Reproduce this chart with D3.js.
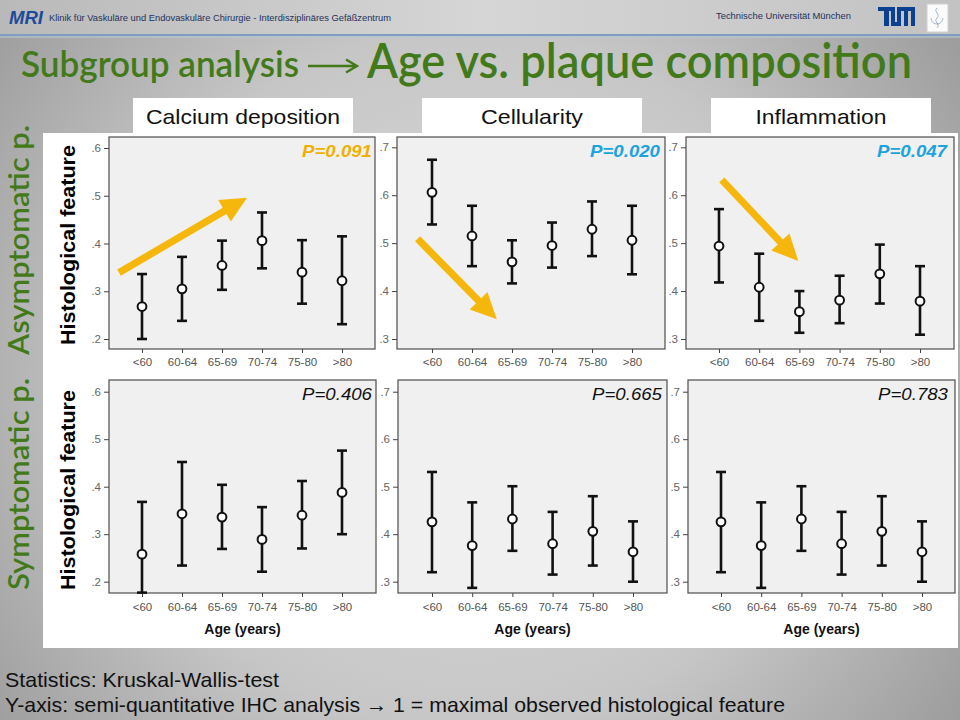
<!DOCTYPE html>
<html><head><meta charset="utf-8">
<script src="https://cdn.jsdelivr.net/npm/d3@7"></script>
<style>body{margin:0;background:#fff}svg{display:block}</style>
</head><body><svg id="c" width="960" height="720"></svg>
<script>
// ---------------- data ----------------
const ageGroups = ["<60", "60-64", "65-69", "70-74", "75-80", ">80"];
const featureTitles = ["Calcium deposition", "Cellularity", "Inflammation"];
const groupTitles = ["Asymptomatic p.", "Symptomatic p."];
const ticksCalcium = [0.2, 0.3, 0.4, 0.5, 0.6];
const ticksCell = [0.3, 0.4, 0.5, 0.6, 0.7];

// Asymptomatic patients
const calciumAsymMean = [0.268, 0.305, 0.354, 0.406, 0.340, 0.322];
const calciumAsymLow  = [0.200, 0.238, 0.303, 0.348, 0.274, 0.231];
const calciumAsymHigh = [0.336, 0.372, 0.406, 0.465, 0.407, 0.415];

const cellAsymMean = [0.606, 0.515, 0.461, 0.495, 0.529, 0.506];
const cellAsymLow  = [0.539, 0.452, 0.416, 0.449, 0.473, 0.435];
const cellAsymHigh = [0.674, 0.578, 0.506, 0.543, 0.587, 0.578];

const inflAsymMean = [0.494, 0.408, 0.357, 0.381, 0.436, 0.379];
const inflAsymLow  = [0.418, 0.338, 0.313, 0.333, 0.374, 0.309];
const inflAsymHigh = [0.571, 0.478, 0.400, 0.432, 0.497, 0.452];

// Symptomatic patients
const calciumSymMean = [0.258, 0.343, 0.336, 0.289, 0.340, 0.388];
const calciumSymLow  = [0.177, 0.234, 0.269, 0.221, 0.270, 0.300];
const calciumSymHigh = [0.368, 0.452, 0.404, 0.357, 0.412, 0.476];

const cellSymMean = [0.426, 0.376, 0.432, 0.380, 0.406, 0.363];
const cellSymLow  = [0.320, 0.287, 0.365, 0.315, 0.334, 0.300];
const cellSymHigh = [0.531, 0.467, 0.501, 0.447, 0.480, 0.427];

const inflSymMean = [0.426, 0.376, 0.432, 0.380, 0.406, 0.363];
const inflSymLow  = [0.320, 0.287, 0.365, 0.315, 0.334, 0.300];
const inflSymHigh = [0.531, 0.467, 0.501, 0.447, 0.480, 0.427];

const pValues = ["P=0.091", "P=0.020", "P=0.047", "P=0.406", "P=0.665", "P=0.783"];

// trend arrows in data units: [category index, value] tail -> tip
const arrowCalcium = [[-0.575, 0.339], [2.625, 0.496]];
const arrowCell    = [[-0.36, 0.509], [1.62, 0.341]];
const arrowInfl    = [[0.07, 0.632], [1.97, 0.463]];

// ---------------- drawing ----------------
const svg = d3.select("#c");
const defs = svg.append("defs");

const rg = defs.append("radialGradient").attr("id", "bg")
  .attr("gradientUnits", "userSpaceOnUse").attr("cx", 470).attr("cy", 380).attr("r", 640);
rg.append("stop").attr("offset", 0).attr("stop-color", "#dedede");
rg.append("stop").attr("offset", 0.55).attr("stop-color", "#c6c6c6");
rg.append("stop").attr("offset", 1).attr("stop-color", "#959595");
svg.append("rect").attr("width", 960).attr("height", 720).attr("fill", "url(#bg)");

const hg = defs.append("linearGradient").attr("id", "hdr");
hg.append("stop").attr("offset", 0).attr("stop-color", "#b9b9b9");
hg.append("stop").attr("offset", 0.5).attr("stop-color", "#d6d6d6");
hg.append("stop").attr("offset", 1).attr("stop-color", "#c2c2c2");
svg.append("rect").attr("width", 960).attr("height", 35).attr("fill", "url(#hdr)");
svg.append("rect").attr("y", 34).attr("width", 960).attr("height", 2).attr("fill", "#7f9dc0");
svg.append("rect").attr("y", 36).attr("width", 960).attr("height", 2).attr("fill", "#b8c4d2").attr("opacity", 0.6);

// header logos + text
svg.append("text").attr("x", 9).attr("y", 24).attr("font-family", "Liberation Sans, Arial")
  .attr("font-weight", "bold").attr("font-style", "italic").attr("font-size", 19)
  .attr("fill", "#1d4b9c").attr("textLength", 34).attr("lengthAdjust", "spacingAndGlyphs").text("MRI");
svg.append("text").attr("x", 49).attr("y", 21).attr("font-family", "Liberation Sans, Arial")
  .attr("font-size", 9.5).attr("fill", "#22325c").attr("textLength", 342).attr("lengthAdjust", "spacingAndGlyphs")
  .text("Klinik für Vaskuläre und Endovaskuläre Chirurgie - Interdisziplinäres Gefäßzentrum");
svg.append("text").attr("x", 716).attr("y", 19).attr("font-family", "Liberation Sans, Arial")
  .attr("font-size", 9.5).attr("fill", "#22325c").attr("textLength", 135).attr("lengthAdjust", "spacingAndGlyphs")
  .text("Technische Universität München");
const tum = svg.append("g").attr("fill", "#0b3f8f");
[[878,7,17,4],[884,7,5,19],[891,7,4,19],[891,22,10,4],[897,7,18,4],[897,7,4,19],[904,7,4,19],[911,7,4,19]]
  .forEach(r => tum.append("rect").attr("x", r[0]).attr("y", r[1]).attr("width", r[2]).attr("height", r[3]));
svg.append("rect").attr("x", 927).attr("y", 4).attr("width", 21).attr("height", 28).attr("fill", "#fbfbfb").attr("stroke", "#cfcfcf");
svg.append("path").attr("d", "M937,8 C933,12 941,14 937,18 C933,22 941,24 937,28 M931,18 C932,26 942,26 943,18")
  .attr("fill", "none").attr("stroke", "#8aa0b8").attr("stroke-width", 0.8);

// title
const green = "#427a1a";
svg.append("text").attr("x", 21).attr("y", 77).attr("font-family", "Lato, Open Sans, sans-serif")
  .attr("font-size", 36).attr("font-weight", 600).attr("fill", green).attr("textLength", 278).attr("lengthAdjust", "spacingAndGlyphs")
  .text("Subgroup analysis");
svg.append("path").attr("d", "M308,66 H356 M346,59.5 L357,66 L346,72.5").attr("fill", "none")
  .attr("stroke", green).attr("stroke-width", 2.4);
svg.append("text").attr("x", 367).attr("y", 78).attr("font-family", "Lato, Open Sans, sans-serif")
  .attr("font-size", 48).attr("font-weight", 600).attr("fill", green).attr("textLength", 545).attr("lengthAdjust", "spacingAndGlyphs")
  .text("Age vs. plaque composition");

// feature header boxes
const boxCenters = [243, 532, 821];
const boxTextLen = [194, 102, 131];
featureTitles.forEach((t, i) => {
  svg.append("rect").attr("x", boxCenters[i] - 110).attr("y", 98).attr("width", 220).attr("height", 36).attr("fill", "#fff");
  svg.append("text").attr("x", boxCenters[i]).attr("y", 124).attr("text-anchor", "middle")
    .attr("font-family", "Liberation Sans, Arial").attr("font-size", 21).attr("fill", "#111")
    .attr("textLength", boxTextLen[i]).attr("lengthAdjust", "spacingAndGlyphs").text(t);
});

// white chart area
svg.append("rect").attr("x", 43).attr("y", 133).attr("width", 915).attr("height", 515).attr("fill", "#fff");

// group labels (green, rotated)
[[29, 240, 230, groupTitles[0]], [29, 484, 212, groupTitles[1]]].forEach(d => {
  svg.append("text").attr("transform", `translate(${d[0]},${d[1]}) rotate(-90)`).attr("text-anchor", "middle")
    .attr("font-family", "Lato, Open Sans, sans-serif").attr("font-size", 28).attr("font-weight", 600).attr("fill", green)
    .attr("textLength", d[2]).attr("lengthAdjust", "spacingAndGlyphs").text(d[3]);
});
// y-axis titles
[245, 490].forEach(cy => {
  svg.append("text").attr("transform", `translate(75,${cy}) rotate(-90)`).attr("text-anchor", "middle")
    .attr("font-family", "Liberation Sans, Arial").attr("font-weight", "bold").attr("font-size", 20)
    .attr("fill", "#000").attr("textLength", 200).attr("lengthAdjust", "spacingAndGlyphs").text("Histological feature");
});

const panels = [
  {mean: calciumAsymMean, lo: calciumAsymLow, hi: calciumAsymHigh, ticks: ticksCalcium, p: pValues[0], pc: "#f0b000", bold: true,
   arrow: arrowCalcium, f: [109,137,375,349], cx: [142,342], ty: [339,148], pb: 157, pe: 372, lb: 366, age: false},
  {mean: cellAsymMean, lo: cellAsymLow, hi: cellAsymHigh, ticks: ticksCell, p: pValues[1], pc: "#1ba3dd", bold: true,
   arrow: arrowCell, f: [397,137,665,349], cx: [432,632], ty: [339,147.3], pb: 157, pe: 660, lb: 366, age: false},
  {mean: inflAsymMean, lo: inflAsymLow, hi: inflAsymHigh, ticks: ticksCell, p: pValues[2], pc: "#1ba3dd", bold: true,
   arrow: arrowInfl, f: [686,137,954,349], cx: [719,920], ty: [339,147.3], pb: 157, pe: 947, lb: 366, age: false},
  {mean: calciumSymMean, lo: calciumSymLow, hi: calciumSymHigh, ticks: ticksCalcium, p: pValues[3], pc: "#111", bold: false,
   arrow: null, f: [109,380,376,593], cx: [142,342], ty: [581.7,391.7], pb: 400, pe: 372, lb: 611, age: true},
  {mean: cellSymMean, lo: cellSymLow, hi: cellSymHigh, ticks: ticksCell, p: pValues[4], pc: "#111", bold: false,
   arrow: null, f: [398,380,667,593], cx: [432,633], ty: [581.7,391.7], pb: 400, pe: 662, lb: 611, age: true},
  {mean: inflSymMean, lo: inflSymLow, hi: inflSymHigh, ticks: ticksCell, p: pValues[5], pc: "#111", bold: false,
   arrow: null, f: [688,380,955,593], cx: [721,922], ty: [581.7,391.7], pb: 400, pe: 948, lb: 611, age: true}
];

panels.forEach(P => {
  const [l, t, r, b] = P.f;
  const g = svg.append("g");
  g.append("rect").attr("x", l).attr("y", t).attr("width", r - l).attr("height", b - t)
    .attr("fill", "#f0f0f0").attr("stroke", "#4d4d4d").attr("stroke-width", 1.2);
  const x = d3.scalePoint().domain(ageGroups).range(P.cx);
  const y = d3.scaleLinear().domain([P.ticks[0], P.ticks[P.ticks.length - 1]]).range(P.ty);

  const fs = 11.5;
  const ax = g.append("g").attr("transform", `translate(0,${b})`)
    .call(d3.axisBottom(x).tickSize(4).tickPadding(P.lb - b - 4 - 0.71 * fs));
  ax.select(".domain").remove();
  ax.selectAll("line").attr("stroke", "#444");
  ax.selectAll("text").attr("font-family", "Liberation Sans, Arial").attr("font-size", fs).attr("fill", "#555");

  const ay = g.append("g").attr("transform", `translate(${l},0)`)
    .call(d3.axisLeft(y).tickValues(P.ticks).tickSize(5).tickPadding(3)
      .tickFormat(v => v.toFixed(1).replace(/^0/, "")));
  ay.select(".domain").remove();
  ay.selectAll("line").attr("stroke", "#444");
  ay.selectAll("text").attr("font-family", "Liberation Sans, Arial").attr("font-size", 11.5).attr("fill", "#666");

  // error bars
  const eb = g.append("g").attr("stroke", "#111").attr("stroke-width", 2.6);
  ageGroups.forEach((a, i) => {
    const cx = x(a);
    eb.append("line").attr("x1", cx).attr("x2", cx).attr("y1", y(P.lo[i])).attr("y2", y(P.hi[i]));
    eb.append("line").attr("x1", cx - 5).attr("x2", cx + 5).attr("y1", y(P.lo[i])).attr("y2", y(P.lo[i]));
    eb.append("line").attr("x1", cx - 5).attr("x2", cx + 5).attr("y1", y(P.hi[i])).attr("y2", y(P.hi[i]));
  });
  g.selectAll("circle.m").data(ageGroups).enter().append("circle")
    .attr("cx", a => x(a)).attr("cy", (a, i) => y(P.mean[i])).attr("r", 4.4)
    .attr("fill", "#fff").attr("stroke", "#111").attr("stroke-width", 2);

  // p-value
  g.append("text").attr("x", P.pe).attr("y", P.pb).attr("text-anchor", "end")
    .attr("font-family", "Liberation Sans, Arial").attr("font-style", "italic")
    .attr("font-weight", P.bold ? "bold" : "normal").attr("font-size", 17).attr("fill", P.pc)
    .attr("textLength", 70).attr("lengthAdjust", "spacingAndGlyphs").text(P.p);

  // trend arrow
  if (P.arrow) {
    const px = v => x(ageGroups[0]) + v * x.step();
    const T = [px(P.arrow[0][0]), y(P.arrow[0][1])];
    const H = [px(P.arrow[1][0]), y(P.arrow[1][1])];
    const dx = H[0] - T[0], dy = H[1] - T[1], L = Math.hypot(dx, dy);
    const u = [dx / L, dy / L], n = [-u[1], u[0]];
    const w = 3.6, hl = 26, hw = 12.5;
    const B = [H[0] - u[0] * hl, H[1] - u[1] * hl];
    const pt = (p, k) => [p[0] + n[0] * k, p[1] + n[1] * k];
    const pts = [pt(T, w), pt(B, w), pt(B, hw), H, pt(B, -hw), pt(B, -w), pt(T, -w)];
    g.append("polygon").attr("points", pts.map(p => p.join(",")).join(" ")).attr("fill", "#f6b70c");
  }

  if (P.age) {
    g.append("text").attr("x", (l + r) / 2).attr("y", 634).attr("text-anchor", "middle")
      .attr("font-family", "Liberation Sans, Arial").attr("font-weight", "bold").attr("font-size", 14)
      .attr("fill", "#111").text("Age (years)");
  }
});

// footer
svg.append("text").attr("x", 5).attr("y", 687).attr("font-family", "Liberation Sans Narrow, Liberation Sans, Arial")
  .attr("font-size", 21).attr("fill", "#111").attr("textLength", 274).attr("lengthAdjust", "spacingAndGlyphs")
  .text("Statistics: Kruskal-Wallis-test");
svg.append("text").attr("x", 5).attr("y", 712).attr("font-family", "Liberation Sans Narrow, Liberation Sans, Arial")
  .attr("font-size", 21).attr("fill", "#111").attr("textLength", 780).attr("lengthAdjust", "spacingAndGlyphs")
  .text("Y-axis: semi-quantitative IHC analysis → 1 = maximal observed histological feature");
</script></body></html>
